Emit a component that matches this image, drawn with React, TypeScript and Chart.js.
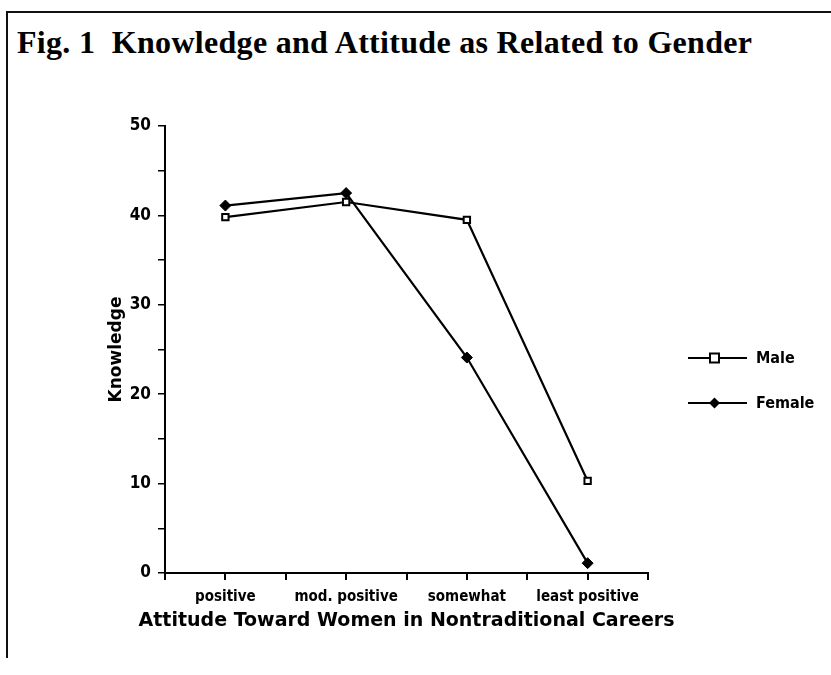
import React, { useEffect, useRef } from "react";
import { Chart, registerables } from "chart.js";

Chart.register(...registerables);

// ---- data ----
const categories = ["positive", "mod. positive", "somewhat", "least positive"];
const maleValues = [39.8, 41.5, 39.5, 10.3];
const femaleValues = [41.1, 42.5, 24.1, 1.1];
const seriesNames = ["Male", "Female"];
const yMin = 0;
const yMax = 50;
const yMajorStep = 10;
const yMinorStep = 5;
const chartTitle = "Fig. 1  Knowledge and Attitude as Related to Gender";
const xAxisTitle = "Attitude Toward Women in Nontraditional Careers";
const yAxisTitle = "Knowledge";

const condensed = "'DejaVu Sans Condensed', 'Liberation Sans Narrow', 'DejaVu Sans', sans-serif";
const heavy = "'DejaVu Sans', 'Liberation Sans', sans-serif";

// x-axis title drawn unclipped (wider than the plot area, as in the original)
const xTitlePlugin = {
  id: "wideXTitle",
  afterDraw(chart: any) {
    const ctx = chart.ctx;
    const a = chart.chartArea;
    ctx.save();
    ctx.fillStyle = "#000";
    ctx.font = `bold 19px ${heavy}`;
    ctx.textAlign = "center";
    ctx.textBaseline = "middle";
    ctx.fillText(xAxisTitle, (a.left + a.right) / 2, a.bottom + 48);
    ctx.restore();
  },
};

const legendPlugin = {
  id: "lineLegend",
  afterDraw(chart: any) {
    const ctx = chart.ctx;
    const a = chart.chartArea;
    chart.data.datasets.forEach((ds: any, i: number) => {
      const y = a.top + 232 + i * 45;
      const x0 = a.right + 40;
      const x1 = a.right + 99;
      const xm = (x0 + x1) / 2 - 3;
      ctx.save();
      ctx.strokeStyle = "#000";
      ctx.lineWidth = 2;
      ctx.beginPath();
      ctx.moveTo(x0, y);
      ctx.lineTo(x1, y);
      ctx.stroke();
      const r = ds.pointRadius;
      if (ds.pointStyle === "rect") {
        ctx.fillStyle = "#fff";
        ctx.fillRect(xm - r, y - r, 2 * r, 2 * r);
        ctx.lineWidth = 2;
        ctx.strokeRect(xm - r, y - r, 2 * r, 2 * r);
      } else {
        ctx.fillStyle = "#000";
        ctx.beginPath();
        ctx.moveTo(xm, y - r);
        ctx.lineTo(xm + r, y);
        ctx.lineTo(xm, y + r);
        ctx.lineTo(xm - r, y);
        ctx.closePath();
        ctx.fill();
      }
      ctx.fillStyle = "#000";
      ctx.font = `bold 16px ${condensed}`;
      ctx.textAlign = "left";
      ctx.textBaseline = "middle";
      ctx.fillText(ds.label, x1 + 9, y + 1);
      ctx.restore();
    });
  },
};

export default function App() {
  const canvasRef = useRef<HTMLCanvasElement | null>(null);

  useEffect(() => {
    const canvas = canvasRef.current;
    if (!canvas) return;
    const chart = new Chart(canvas, {
      type: "line",
      data: {
        labels: categories,
        datasets: [
          {
            label: seriesNames[0],
            data: maleValues,
            borderColor: "#000",
            borderWidth: 2.2,
            tension: 0,
            pointStyle: "rect",
            pointRadius: 4.5,
            pointBackgroundColor: "#fff",
            pointBorderColor: "#000",
            pointBorderWidth: 2,
            xAxisID: "x",
            yAxisID: "y",
            order: 1,
          },
          {
            label: seriesNames[1],
            data: femaleValues,
            borderColor: "#000",
            borderWidth: 2.2,
            tension: 0,
            pointStyle: "rectRot",
            pointRadius: 5.5,
            pointBackgroundColor: "#000",
            pointBorderColor: "#000",
            pointBorderWidth: 1,
            xAxisID: "x",
            yAxisID: "y",
            order: 0,
          },
        ],
      },
      options: {
        responsive: false,
        animation: false,
        events: [],
        layout: { padding: { left: 92, right: 183, top: 126, bottom: 35 } },
        plugins: {
          legend: { display: false },
          title: { display: false },
          tooltip: { enabled: false },
        },
        scales: {
          x: {
            type: "category",
            position: "bottom",
            weight: 1,
            offset: true,
            grid: { display: false, drawTicks: false },
            border: { display: false },
            ticks: {
              color: "#000",
              font: { family: condensed, size: 15, weight: "bold" },
              padding: 8,
              maxRotation: 0,
              autoSkip: false,
            },
            title: { display: false },
            afterFit: (s: any) => {
              s.height = 60;
              s.paddingLeft = 0;
              s.paddingRight = 0;
            },
          },
          x2: {
            type: "linear",
            position: "bottom",
            weight: 0,
            min: -0.5,
            max: categories.length - 0.5,
            ticks: { display: false, stepSize: 0.5 },
            grid: { drawOnChartArea: false, drawTicks: true, tickLength: 7, color: "#000", lineWidth: 2 },
            border: { display: true, color: "#000", width: 2 },
            afterFit: (s: any) => {
              s.height = 7;
              s.paddingLeft = 0;
              s.paddingRight = 0;
            },
          },
          y: {
            type: "linear",
            position: "left",
            weight: 1,
            min: yMin,
            max: yMax,
            ticks: {
              stepSize: yMajorStep,
              color: "#000",
              font: { family: condensed, size: 17, weight: "bold" },
              padding: 6,
            },
            grid: { display: false, drawTicks: false },
            border: { display: false },
            title: {
              display: true,
              text: yAxisTitle,
              color: "#000",
              font: { family: heavy, size: 17, weight: "bold" },
              padding: { top: 14, bottom: 0 },
            },
            afterFit: (s: any) => {
              s.width = 65;
              s.paddingTop = 0;
              s.paddingBottom = 0;
            },
          },
          y2: {
            type: "linear",
            position: "left",
            weight: 0,
            min: yMin,
            max: yMax,
            ticks: { display: false, stepSize: yMinorStep },
            grid: { drawOnChartArea: false, drawTicks: true, tickLength: 7, color: "#000", lineWidth: 1.5 },
            border: { display: true, color: "#000", width: 2 },
            afterFit: (s: any) => {
              s.width = 8;
              s.paddingTop = 0;
              s.paddingBottom = 0;
            },
          },
        },
      },
      plugins: [legendPlugin, xTitlePlugin],
    } as any);
    return () => chart.destroy();
  }, []);

  return (
    <div
      style={{
        position: "absolute",
        left: 0,
        top: 0,
        width: 831,
        height: 675,
        background: "#fff",
        overflow: "hidden",
      }}
    >
      <div
        style={{
          position: "absolute",
          left: 6,
          top: 11,
          width: 840,
          height: 645,
          borderLeft: "2px solid #111",
          borderTop: "2px solid #111",
        }}
      />
      <div
        style={{
          position: "absolute",
          left: 17,
          top: 26,
          fontFamily: "'Liberation Serif', 'DejaVu Serif', serif",
          fontWeight: "bold",
          fontSize: 32,
          lineHeight: "32px",
          letterSpacing: "0.3px",
          color: "#000",
          whiteSpace: "pre",
        }}
      >
        {chartTitle}
      </div>
      <canvas
        ref={canvasRef}
        width={831}
        height={675}
        style={{ position: "absolute", left: 0, top: 0, width: 831, height: 675 }}
      />
    </div>
  );
}
